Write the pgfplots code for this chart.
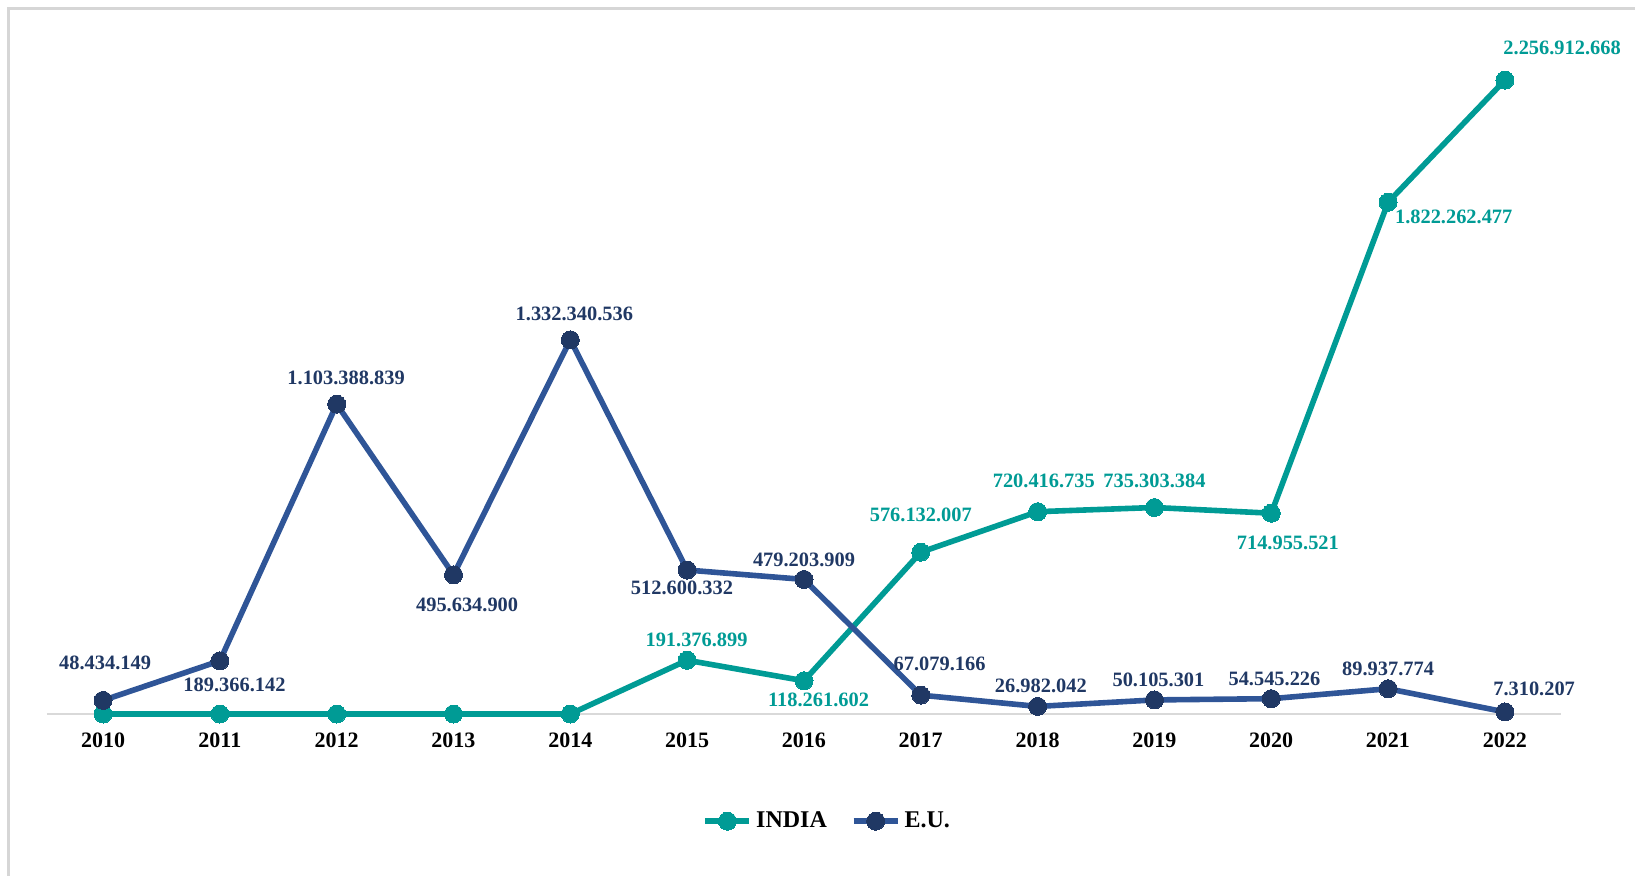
\documentclass[border=0pt]{standalone}
\usepackage{pgfplots}
\pgfplotsset{compat=1.18}
\usepackage{pgfplotstable}
\usepackage{fontspec}
\setmainfont{Liberation Serif}

\definecolor{indiateal}{HTML}{009B95}
\definecolor{eublue}{HTML}{2F5597}
\definecolor{eunavy}{HTML}{203864}

% year, value, label, label offsets (pt)
\pgfplotstableread{
year value lab dx dy
2010 0 {} 0 0
2011 0 {} 0 0
2012 0 {} 0 0
2013 0 {} 0 0
2014 0 {} 0 0
2015 191376899 191.376.899 4.7 10.4
2016 118261602 118.261.602 7.3 -9.4
2017 576132007 576.132.007 0 18.8
2018 720416735 720.416.735 3.1 15.6
2019 735303384 735.303.384 0 13.5
2020 714955521 714.955.521 8.3 -14.6
2021 1822262477 1.822.262.477 32.8 -7.3
2022 2256912668 2.256.912.668 28.6 16.1
}\india

\pgfplotstableread{
year value lab dx dy
2010 48434149 48.434.149 1 18.8
2011 189366142 189.366.142 7.3 -12
2012 1103388839 1.103.388.839 4.7 13
2013 495634900 495.634.900 6.8 -15
2014 1332340536 1.332.340.536 2 13
2015 512600332 512.600.332 -2.6 -8.9
2016 479203909 479.203.909 0 9.9
2017 67079166 67.079.166 9.4 15.6
2018 26982042 26.982.042 1.6 10.4
2019 50105301 50.105.301 2 9.9
2020 54545226 54.545.226 1.6 9.9
2021 89937774 89.937.774 0 9.9
2022 7310207 7.310.207 14.6 11.5
}\eu

\pgfplotsset{
  valuelabels/.style={
    draw=none, mark=none, forget plot,
    visualization depends on={\thisrow{dx}\as\dx},
    visualization depends on={\thisrow{dy}\as\dy},
    nodes near coords,
    point meta=explicit symbolic,
    nodes near coords style={anchor=center, xshift=\dx pt, yshift=\dy pt,
      font=\bfseries\fontsize{10.2}{12}\selectfont, text=#1},
  },
}

\begin{document}
\begin{tikzpicture}
\useasboundingbox (0,0) rectangle (817.5pt,437.5pt);
\draw[color=black!16, line width=1.5pt] (4pt,-10pt) -- (4pt,433pt) -- (830pt,433pt);
\begin{axis}[
  at={(23.5pt,80.5pt)}, anchor=south west,
  scale only axis,
  width=757pt, height=337pt,
  xmin=2009.52, xmax=2022.48,
  ymin=0, ymax=2.4e9,
  clip=false,
  axis y line=none,
  axis x line*=bottom,
  x axis line style={color=black!15, line width=0.8pt},
  xtick={2010,...,2022},
  major tick length=0pt,
  /pgf/number format/assume math mode=true,
  xticklabel style={/pgf/number format/1000 sep={}, font=\bfseries\fontsize{11}{13}\selectfont, yshift=-5.7pt},
  legend columns=2,
  legend style={draw=none, at={(0.516,-0.159)}, anchor=center,
    font=\bfseries\fontsize{12}{14}\selectfont,
    /tikz/every even column/.append style={column sep=10pt}},
  legend image code/.code={\draw[mark repeat=2,mark phase=2,#1] plot coordinates {(0pt,0pt) (11pt,0pt) (22pt,0pt)};},
]
\addplot[color=indiateal, line width=2.8pt, mark=*, mark size=4.5pt,
  mark options={fill=indiateal, draw=indiateal, line width=0pt}]
  table[x=year, y=value] {\india};
\addlegendentry{INDIA}
\addplot[color=eublue, line width=2.8pt, mark=*, mark size=4.5pt,
  mark options={fill=eunavy, draw=eunavy, line width=0pt}]
  table[x=year, y=value] {\eu};
\addlegendentry{E.U.}
\addplot[valuelabels=indiateal] table[x=year, y=value, meta=lab] {\india};
\addplot[valuelabels=eunavy] table[x=year, y=value, meta=lab] {\eu};
\end{axis}
\end{tikzpicture}
\end{document}
